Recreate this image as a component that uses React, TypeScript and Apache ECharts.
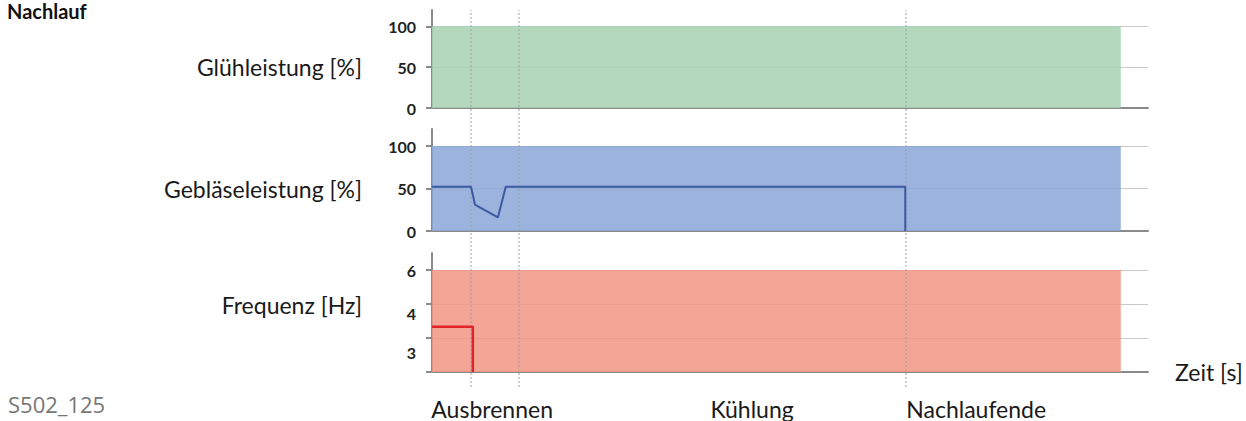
import React, { useEffect, useRef } from "react";
import * as echarts from "echarts";

// ---- data ----
const fillTimes = [0, 96.2];
const gluehLevel = [100, 100];
const geblaeseLevel = [100, 100];
const freqLevel = [3, 3];

const geblaeseTimes = [0, 5.45, 6.0, 9.2, 10.3, 66.1, 66.1];
const geblaeseValues = [52, 52, 31, 16, 52, 52, 0];

const freqTimes = [0, 5.7, 5.7];
const freqValues = [1.33, 1.33, 0];

const phaseMarks = [5.45, 12.15, 66.1];
const phaseLabels = ["Ausbrennen", "Kühlung", "Nachlaufende"];
const phaseLabelAt = [8.4, 44.7, 76];

const percentTicks = [0, 50, 100];
const freqTickLevels = [0, 1, 2, 3];
const freqTickLabels = ["6", "4", "3"];
const freqTickLabelAt = [3, 1.73, 0.56];

const rowNames = ["Glühleistung [%]", "Gebläseleistung [%]", "Frequenz [Hz]"];

const FONT = "Lato";

function zip(xs: number[], ys: number[]) {
  return xs.map((x, i) => [x, ys[i]]);
}

export default function App() {
  const ref = useRef<HTMLDivElement>(null);
  useEffect(() => {
    if (!ref.current) return;
    const chart = echarts.init(ref.current, undefined, { renderer: "svg" });
    const axisLineStyle = { color: "#8a8a8a", width: 2 };
    const splitStyle = { color: "#c9c9c9", width: 1 };
    const tickLabel = { fontFamily: FONT, fontWeight: "bold" as const, fontSize: 16, color: "#222", margin: 16 };
    const nameRich = (pad: number[]) => ({
      rich: { n: { fontFamily: FONT, fontSize: 23, color: "#1a1a1a", padding: pad } },
    });

    const xBase = (idx: number, extra: any = {}) => ({
      type: "value",
      gridIndex: idx,
      min: 0,
      max: 100,
      axisLine: { show: idx < 3, lineStyle: axisLineStyle, onZero: false },
      axisTick: { show: false },
      splitLine: { show: false },
      axisLabel: { show: false },
      ...extra,
    });

    const option: any = {
      animation: false,
      title: [
        { text: "Nachlauf", left: 7, top: 0, padding: 0, textStyle: { fontFamily: FONT, fontWeight: "bold", fontSize: 20, lineHeight: 21, color: "#111" } },
        { text: "S502_125", left: 3, top: 388, textStyle: { fontFamily: "Open Sans", fontWeight: "normal", fontSize: 22, color: "#777" } },
      ],
      grid: [
        { left: 432, width: 716, top: 10, height: 98 },
        { left: 432, width: 716, top: 129, height: 102 },
        { left: 432, width: 716, top: 253, height: 119 },
        { left: 432, width: 716, top: 10, height: 377 },
      ],
      xAxis: [
        xBase(0),
        xBase(1),
        xBase(2, {
          name: "Zeit [s]",
          nameLocation: "end",
          nameGap: 27,
          nameTextStyle: { fontFamily: FONT, fontSize: 23, color: "#1a1a1a", padding: [0, 0, 8, 0] },
          axisLabel: {
            show: true,
            customValues: phaseLabelAt,
            margin: 25,
            fontFamily: FONT,
            fontSize: 23,
            color: "#1a1a1a",
            formatter: (v: number) => {
              const i = phaseLabelAt.findIndex((p) => Math.abs(p - v) < 1e-6);
              return i >= 0 ? phaseLabels[i] : "";
            },
          },
        }),
        xBase(3, { show: false }),
      ],
      yAxis: [
        {
          type: "value",
          gridIndex: 0,
          min: 0,
          max: 120,
          name: "{n|" + rowNames[0] + "}",
          nameLocation: "middle",
          nameRotate: 0,
          nameGap: 70,
          nameTextStyle: nameRich([16, 0, 0, 0]),
          axisLine: { show: true, lineStyle: axisLineStyle },
          axisTick: { show: true, customValues: percentTicks, length: 6, lineStyle: axisLineStyle },
          axisLabel: { ...tickLabel, customValues: percentTicks },
          splitLine: { show: true, lineStyle: splitStyle },
        },
        {
          type: "value",
          gridIndex: 1,
          min: 0,
          max: 120,
          name: "{n|" + rowNames[1] + "}",
          nameLocation: "middle",
          nameRotate: 0,
          nameGap: 70,
          nameTextStyle: nameRich([18, 0, 0, 0]),
          axisLine: { show: true, lineStyle: axisLineStyle },
          axisTick: { show: true, customValues: percentTicks, length: 6, lineStyle: axisLineStyle },
          axisLabel: { ...tickLabel, customValues: percentTicks },
          splitLine: { show: true, lineStyle: splitStyle },
        },
        {
          type: "value",
          gridIndex: 2,
          min: 0,
          max: 3.5,
          name: "{n|" + rowNames[2] + "}",
          nameLocation: "middle",
          nameRotate: 0,
          nameGap: 70,
          nameTextStyle: nameRich([0, 0, 15, 0]),
          axisLine: { show: true, lineStyle: axisLineStyle },
          axisTick: { show: true, customValues: freqTickLevels, length: 6, lineStyle: axisLineStyle },
          axisLabel: {
            ...tickLabel,
            customValues: freqTickLabelAt,
            formatter: (v: number) => {
              const i = freqTickLabelAt.findIndex((p) => Math.abs(p - v) < 1e-6);
              return i >= 0 ? freqTickLabels[i] : "";
            },
          },
          splitLine: { show: true, lineStyle: splitStyle },
        },
        { type: "value", gridIndex: 3, min: 0, max: 1, show: false },
      ],
      series: [
        {
          type: "line",
          xAxisIndex: 0,
          yAxisIndex: 0,
          data: zip(fillTimes, gluehLevel),
          symbol: "none",
          lineStyle: { width: 0 },
          areaStyle: { color: "#a6d1b1", opacity: 0.85 },
          silent: true,
        },
        {
          type: "line",
          xAxisIndex: 1,
          yAxisIndex: 1,
          data: zip(fillTimes, geblaeseLevel),
          symbol: "none",
          lineStyle: { width: 0 },
          areaStyle: { color: "#8aa6d7", opacity: 0.85 },
          silent: true,
        },
        {
          type: "line",
          xAxisIndex: 2,
          yAxisIndex: 2,
          data: zip(fillTimes, freqLevel),
          symbol: "none",
          lineStyle: { width: 0 },
          areaStyle: { color: "#f39583", opacity: 0.85 },
          silent: true,
        },
        {
          type: "line",
          xAxisIndex: 3,
          yAxisIndex: 3,
          data: [],
          symbol: "none",
          z: 5,
          markLine: {
            silent: true,
            symbol: "none",
            label: { show: false },
            lineStyle: { type: "dotted", color: "rgba(160,160,160,0.5)", width: 2 },
            data: phaseMarks.map((t) => ({ xAxis: t })),
          },
        },
        {
          type: "line",
          xAxisIndex: 1,
          yAxisIndex: 1,
          data: zip(geblaeseTimes, geblaeseValues),
          symbol: "none",
          z: 6,
          lineStyle: { color: "#3b5aa3", width: 2 },
        },
        {
          type: "line",
          xAxisIndex: 2,
          yAxisIndex: 2,
          data: zip(freqTimes, freqValues),
          symbol: "none",
          z: 6,
          lineStyle: { color: "#e2232b", width: 2.5 },
        },
      ],
    };
    chart.setOption(option);
    return () => chart.dispose();
  }, []);
  return (
    <div
      ref={ref}
      style={{ position: "fixed", left: 0, top: 0, width: 1246, height: 421, background: "#fff" }}
    />
  );
}
